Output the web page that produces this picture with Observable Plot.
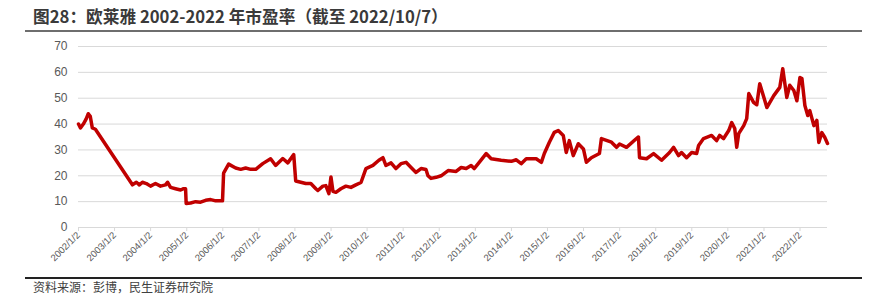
<!DOCTYPE html>
<html>
<head>
<meta charset="utf-8">
<script src="https://cdn.jsdelivr.net/npm/d3@7"></script>
<script src="https://cdn.jsdelivr.net/npm/@observablehq/plot@0.6"></script>
<style>
  html, body { margin: 0; padding: 0; background: #fff; }
  #wrap { position: relative; width: 875px; height: 295px; overflow: hidden; font-family: "Noto Sans CJK SC", "Liberation Sans", sans-serif; }
  #title { position: absolute; left: 33px; top: 5px; font-size: 16.7px; line-height: 22px; font-weight: bold; color: #3a3a3a; white-space: nowrap; }
  #topline { position: absolute; left: 25px; width: 837px; top: 30px; height: 2px; background: #6e6e6e; }
  #chart { position: absolute; left: 0; top: 35px; }
  #botline { position: absolute; left: 25px; width: 837px; top: 277px; height: 1.5px; background: #222; }
  #source { position: absolute; left: 33px; top: 280px; font-size: 12px; line-height: 14px; color: #404040; white-space: nowrap; }
</style>
</head>
<body>
<div id="wrap">
  <div id="title">图28：欧莱雅 2002-2022 年市盈率（截至 2022/10/7）</div>
  <div id="topline"></div>
  <div id="chart"></div>
  <div id="botline"></div>
  <div id="source">资料来源：彭博，民生证券研究院</div>
</div>
<script>
const dates = [
  "2002-01-02","2002-01-22","2002-02-20","2002-03-21","2002-04-11","2002-05-01","2002-05-22","2002-06-22",
  "2003-07-02","2003-08-11","2003-09-10","2003-10-11","2003-11-20","2004-01-01","2004-02-20","2004-04-11",
  "2004-06-01","2004-06-21","2004-07-22","2004-09-10","2004-11-01","2004-12-01","2004-12-21","2004-12-27",
  "2005-02-10","2005-04-01","2005-05-22","2005-07-12","2005-09-01","2005-10-22","2005-12-30","2006-01-10",
  "2006-03-02","2006-05-12","2006-07-02","2006-08-21","2006-10-11","2006-12-01","2007-02-10","2007-05-01",
  "2007-06-21","2007-09-01","2007-10-22","2007-12-21","2008-01-10","2008-03-01","2008-04-21","2008-06-11",
  "2008-08-01","2008-08-21","2008-10-11","2008-11-10","2008-12-11","2009-01-01","2009-01-21","2009-02-20",
  "2009-04-11","2009-06-01","2009-07-22","2009-09-10","2009-11-01","2009-12-21","2010-03-02","2010-05-01",
  "2010-06-11","2010-07-11","2010-09-01","2010-10-21","2010-12-11","2011-01-31","2011-03-23","2011-05-12",
  "2011-07-02","2011-08-21","2011-09-10","2011-10-11","2011-12-01","2012-01-21","2012-04-01","2012-06-21",
  "2012-08-11","2012-10-01","2012-11-20","2012-12-21","2013-02-10","2013-04-21","2013-06-11","2013-09-20",
  "2014-01-01","2014-02-20","2014-04-11","2014-06-01","2014-09-10","2014-11-01","2014-12-01","2015-01-21",
  "2015-03-12","2015-04-21","2015-06-11","2015-07-11","2015-08-11","2015-09-20","2015-11-10","2016-01-01",
  "2016-01-31","2016-03-21","2016-06-11","2016-07-01","2016-10-11","2016-12-01","2017-01-01","2017-03-12",
  "2017-06-21","2017-07-11","2017-07-22","2017-10-01","2017-12-11","2018-03-02","2018-05-22","2018-07-02",
  "2018-08-21","2018-09-20","2018-11-10","2019-01-01","2019-02-20","2019-03-12","2019-05-01","2019-07-22",
  "2019-09-10","2019-10-11","2019-11-20","2020-01-11","2020-02-10","2020-03-12","2020-04-01","2020-04-21",
  "2020-06-11","2020-07-11","2020-08-01","2020-09-20","2020-10-21","2020-11-20","2021-01-01","2021-01-31",
  "2021-04-11","2021-06-11","2021-07-11","2021-08-21","2021-09-20","2021-10-31","2021-12-01","2022-01-01",
  "2022-01-21","2022-02-20","2022-03-21","2022-04-11","2022-05-22","2022-06-21","2022-07-11","2022-08-11",
  "2022-09-10","2022-10-07"
];
const pe = [
  40, 38.5, 40, 42, 44, 43, 38.5, 38,
  16.5, 17.5, 16.5, 17.5, 17, 16, 17, 16,
  16.5, 17.5, 15.5, 15, 14.5, 15, 15, 9.3,
  9.5, 10, 9.8, 10.5, 10.8, 10.3, 10.3, 21,
  24.5, 23, 22.5, 23, 22.5, 22.5, 24.7, 26.6,
  24, 26.7, 25, 28.2, 18, 17.5, 17, 17,
  15, 14.3, 16, 16.2, 13.1, 19.5, 14, 13.6,
  15, 16, 15.5, 16.5, 17.4, 22.8, 24, 26,
  27, 24, 25, 22.8, 24.7, 25.2, 23.2, 21.3,
  22.8, 22.4, 20, 19, 19.4, 20, 22, 21.7,
  23.2, 22.8, 24, 22.8, 25.2, 28.6, 26.6, 26,
  25.6, 26.2, 24.7, 26.6, 26.6, 25.2, 28.6, 33,
  36.8, 37.5, 35.6, 29, 33.6, 27.8, 32.4, 30.4,
  25.2, 27, 28.6, 34.4, 33, 31, 32.3, 31,
  34.4, 35, 27, 26.6, 28.6, 26, 29, 31,
  27.8, 29, 27, 29, 28.6, 31.7, 34.4, 35.6,
  33.6, 35.6, 34.4, 37.5, 40.6, 38.3, 31, 36.3,
  39.4, 42.1, 51.8, 48.3, 47.5, 55.6, 50.3, 46.4,
  51, 54.2, 61.4, 50.3, 55, 53, 49, 58,
  57.6, 47.2, 43.3, 45.2, 39.4, 41.4, 32.9, 36.7,
  34.8, 32.5
];
const tickYears = [2002,2003,2004,2005,2006,2007,2008,2009,2010,2011,2012,2013,2014,2015,2016,2017,2018,2019,2020,2021,2022];
const tickLabels = tickYears.map(y => `${y}/1/2`);
const yTicks = [0,10,20,30,40,50,60,70];

const data = dates.map((d, i) => ({date: new Date(d + "T00:00:00Z"), value: pe[i]}));
const xTicks = tickYears.map(y => new Date(Date.UTC(y, 0, 2)));

const chart = Plot.plot({
  width: 875,
  height: 240,
  marginLeft: 78,
  marginRight: 48,
  marginTop: 11,
  marginBottom: 48,
  style: {fontFamily: "'Liberation Sans', Arial, sans-serif", background: "transparent"},
  x: {type: "utc", domain: [new Date("2002-01-02T00:00:00Z"), new Date("2022-10-07T00:00:00Z")]},
  y: {domain: [0, 70]},
  marks: [
    Plot.gridY(yTicks, {stroke: "#d9d9d9", strokeOpacity: 1, strokeWidth: 1}),
    Plot.ruleY([0], {stroke: "#d9d9d9", strokeWidth: 1}),
    Plot.axisY(yTicks, {tickSize: 0, tickPadding: 11, fontSize: 12, fill: "#595959", label: null}),
    Plot.axisX(xTicks, {
      tickSize: 4, stroke: "#d9d9d9", tickRotate: -45, tickPadding: 2, fontSize: 9.5, fill: "#595959", label: null,
      tickFormat: (d) => tickLabels[tickYears.indexOf(d.getUTCFullYear())]
    }),
    Plot.line(data, {x: "date", y: "value", stroke: "#c00000", strokeWidth: 3.5, strokeLinejoin: "round", strokeLinecap: "round"})
  ]
});
document.getElementById("chart").appendChild(chart);
</script>
</body>
</html>
